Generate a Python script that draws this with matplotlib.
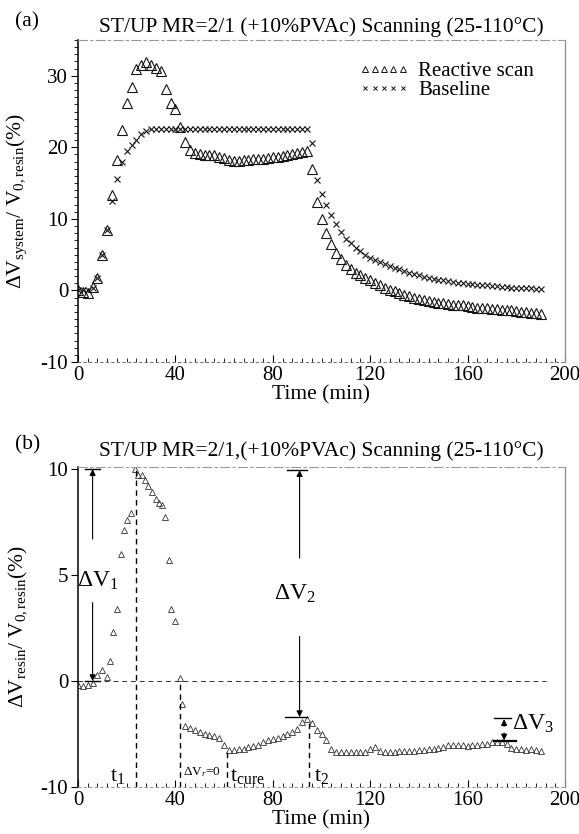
import matplotlib
matplotlib.use("Agg")
import matplotlib.pyplot as plt
from matplotlib.ticker import MultipleLocator, FixedLocator
from matplotlib.lines import Line2D

plt.rcParams["font.family"] = ["Liberation Serif", "DejaVu Serif"]
plt.rcParams["mathtext.fontset"] = "custom"
plt.rcParams["mathtext.rm"] = "Liberation Serif"
plt.rcParams["mathtext.it"] = "Liberation Serif:italic"
plt.rcParams["axes.unicode_minus"] = False

# ---- panel (a): system volume change, reactive scan vs baseline ----
time_a = [0, 2, 4, 6, 8, 10, 12, 14, 16, 18, 20, 22, 24, 26, 28, 30, 32, 34, 36, 38,
          40, 42, 44, 46, 48, 50, 52, 54, 56, 58, 60, 62, 64, 66, 68, 70, 72, 74, 76, 78,
          80, 82, 84, 86, 88, 90, 92, 94, 96, 98, 100, 102, 104, 106, 108, 110, 112, 114,
          116, 118, 120, 122, 124, 126, 128, 130, 132, 134, 136, 138, 140, 142, 144, 146,
          148, 150, 152, 154, 156, 158, 160, 162, 164, 166, 168, 170, 172, 174, 176, 178,
          180, 182, 184, 186, 188, 190]
reactive_a = [0, -0.2, -0.3, 0.5, 1.8, 5.0, 8.4, 13.4, 18.2, 22.4, 26.2, 28.4, 31.0, 31.5,
              31.9, 31.5, 31.1, 30.6, 28.1, 26.2, 25.3, 22.8, 20.8, 19.6, 19.2, 19.0, 18.9,
              18.9, 18.9, 18.7, 18.5, 18.2, 18.1, 18.1, 18.2, 18.2, 18.3, 18.3, 18.4, 18.5,
              18.6, 18.7, 18.8, 18.9, 19.0, 19.2, 19.3, 19.5, 17.0, 12.3, 10.0, 8.0, 6.5,
              5.3, 4.4, 3.6, 3.0, 2.5, 2.1, 1.8, 1.5, 1.1, 0.8, 0.4, 0.1, -0.1, -0.3, -0.6,
              -0.8, -1.0, -1.2, -1.3, -1.5, -1.6, -1.7, -1.8, -1.9, -2.0, -2.0, -2.1, -2.2,
              -2.3, -2.4, -2.4, -2.5, -2.6, -2.6, -2.7, -2.8, -2.8, -2.9, -3.0, -3.0, -3.1,
              -3.2, -3.3]
baseline_a = [0, 0, 0, 0.3, 1.8, 5.0, 8.4, 12.5, 15.6, 17.9, 19.5, 20.3, 21.0, 21.8, 22.3,
              22.5, 22.6, 22.6, 22.6, 22.6, 22.6, 22.6, 22.6, 22.6, 22.6, 22.6, 22.6, 22.6,
              22.6, 22.6, 22.6, 22.6, 22.6, 22.6, 22.6, 22.6, 22.6, 22.6, 22.6, 22.6, 22.6,
              22.6, 22.6, 22.6, 22.6, 22.6, 22.6, 22.6, 20.6, 15.5, 13.5, 12.0, 10.6, 9.3,
              8.2, 7.2, 6.6, 6.0, 5.5, 5.0, 4.6, 4.3, 4.0, 3.7, 3.4, 3.2, 3.0, 2.7, 2.5, 2.3,
              2.1, 1.9, 1.8, 1.6, 1.5, 1.4, 1.3, 1.2, 1.1, 1.0, 0.95, 0.9, 0.8, 0.7, 0.7,
              0.6, 0.6, 0.5, 0.5, 0.4, 0.4, 0.4, 0.3, 0.3, 0.2, 0.2]

# ---- panel (b): resin volume change (axis units as drawn; lowest tick printed as -10) ----
time_b = [0, 2, 4, 6, 8, 10, 12, 13, 14.4, 16, 17.7, 18.9, 20.1, 21.9, 23.5, 24.6, 26.1,
          27.6, 28.8, 30.3, 31.9, 33.4, 34.5, 35.6, 37.2, 38.3, 39.8, 41.7, 42.8,
          44, 46, 48, 50, 52, 54, 56, 58, 60, 62, 64, 66, 68, 70, 72, 74, 76, 78, 80, 82,
          84, 86, 88, 90, 92, 94, 96, 98, 100, 102, 104, 106, 108, 110, 112, 114, 116,
          118, 120, 122, 124, 126, 128, 130, 132, 134, 136, 138, 140, 142, 144, 146, 148,
          150, 152, 154, 156, 158, 160, 162, 164, 166, 168, 170, 172, 174, 176, 178, 180,
          182, 184, 186, 188, 190]
resin_b = [-0.2, -0.25, -0.2, -0.1, 0.3, 0.5, 0.2, 0.95, 2.3, 3.4, 6.0, 7.15, 7.6, 7.95,
           10.0, 9.7, 9.7, 9.5, 9.2, 8.9, 8.6, 8.4, 8.3, 7.75, 5.7, 3.4, 2.85, 0.15, -1.1,
           -2.1, -2.2, -2.3, -2.4, -2.5, -2.55, -2.6, -2.7, -3.0, -3.25, -3.25, -3.2, -3.2,
           -3.1, -3.05, -3.0, -2.9, -2.8, -2.75, -2.7, -2.6, -2.5, -2.4, -2.25, -1.95, -1.8,
           -2.0, -2.3, -2.5, -2.8, -3.2, -3.35, -3.35, -3.35, -3.35, -3.35, -3.35, -3.35,
           -3.2, -3.1, -3.3, -3.35, -3.35, -3.35, -3.3, -3.3, -3.3, -3.3, -3.25, -3.25,
           -3.2, -3.2, -3.15, -3.1, -3.0, -3.0, -3.0, -3.0, -3.05, -3.0, -3.0, -2.95, -2.95,
           -2.9, -2.9, -2.9, -2.95, -3.15, -3.2, -3.2, -3.25, -3.2, -3.25, -3.3]
yticks_b = [-5, 0, 5, 10]
yticklabels_b = ["-10", "0", "5", "10"]

# characteristic times / levels marked in (b)
t_1, t_r0, t_cure, t_2 = 24, 42, 61, 95
dv1_x, dv2_x, dv3_x = 6, 91, 175
dv2_low = -1.7
dv3_top, dv3_bot = -1.75, -2.85

FS = 15.5
TICK_FS = 15
W, H = 579, 834
fig = plt.figure(figsize=(W / 100, H / 100), dpi=100)
ax1 = fig.add_axes([78 / W, 1 - 362 / H, 487 / W, 322 / H])
ax2 = fig.add_axes([78 / W, 1 - 787 / H, 487 / W, 320 / H])

ink = "#151515"


def style_axes(ax):
    ax.set_xlim(0, 200)
    ax.xaxis.set_major_locator(MultipleLocator(40))
    ax.xaxis.set_minor_locator(MultipleLocator(4))
    ax.tick_params(axis="x", which="both", direction="in", top=False, labelsize=TICK_FS, pad=3)
    ax.tick_params(axis="x", which="major", length=5)
    ax.tick_params(axis="x", which="minor", length=3)
    ax.tick_params(axis="y", which="both", direction="out", right=False, labelsize=TICK_FS, pad=2)
    ax.tick_params(axis="y", which="major", length=5)
    ax.tick_params(axis="y", which="minor", length=3)
    ax.spines["left"].set_linewidth(1.1)
    ax.spines["top"].set_color("#9a9a9a")
    ax.spines["top"].set_linestyle((0, (8, 3, 2, 3)))
    ax.spines["top"].set_linewidth(0.8)
    ax.spines["right"].set_color("#8a8a8a")
    ax.spines["right"].set_linewidth(0.9)
    ax.spines["bottom"].set_color("#777777")
    ax.spines["bottom"].set_linestyle((0, (2, 3)))
    ax.spines["bottom"].set_linewidth(0.8)
    ax.set_xlabel("Time (min)", fontsize=FS, labelpad=0)


# ---------- (a) ----------
style_axes(ax1)
ax1.set_ylim(-10, 35)
ax1.yaxis.set_major_locator(MultipleLocator(10))
ax1.yaxis.set_minor_locator(MultipleLocator(1))
ax1.plot(time_a, reactive_a, ls="none", marker="^", ms=6.5, mfc="none", mec=ink, mew=0.8)
ax1.plot(time_a, baseline_a, ls="none", marker="x", ms=4.5, color=ink, mew=0.8)
ax1.set_ylabel(r"$\Delta$V$_{\mathrm{system}}$/ V$_{\mathrm{0,resin}}$(%)", fontsize=FS)
ax1.yaxis.set_label_coords(-0.1, 0.5)
ax1.set_title("ST/UP MR=2/1 (+10%PVAc) Scanning (25-110\u00b0C)", fontsize=FS, pad=6)
fig.text(15 / W, 1 - 22 / H, "(a)", fontsize=FS, va="center")

handles = [
    Line2D([], [], ls="none", marker="^", ms=4.5, mfc="none", mec=ink, mew=0.7),
    Line2D([], [], ls="none", marker="x", ms=3.5, color=ink, mew=0.7),
]
ax1.legend(handles, ["Reactive scan", "Baseline"], numpoints=5, handlelength=2.4,
           handletextpad=0.45, labelspacing=0.0, frameon=False, fontsize=15,
           loc="upper left", bbox_to_anchor=(0.56, 0.96), borderaxespad=0)

# ---------- (b) ----------
style_axes(ax2)
ax2.set_ylim(-5, 10.1)
ax2.yaxis.set_major_locator(FixedLocator(yticks_b))
ax2.set_yticklabels(yticklabels_b)
ax2.spines["bottom"].set_color("#999999")
ax2.plot(time_b, resin_b, ls="none", marker="^", ms=5, mfc="none", mec="#333333", mew=0.6)
ax2.set_ylabel(r"$\Delta$V$_{\mathrm{resin}}$/ V$_{\mathrm{0,resin}}$(%)", fontsize=FS)
ax2.yaxis.set_label_coords(-0.1, 0.5)
ax2.set_title("ST/UP MR=2/1,(+10%PVAc) Scanning (25-110\u00b0C)", fontsize=FS, pad=8)
fig.text(15 / W, 1 - 445 / H, "(b)", fontsize=FS, va="center")

dash = dict(color="k", lw=1.0, ls=(0, (4, 3)))
ax2.plot([0, 192], [0, 0], color="#333333", lw=0.7, ls=(0, (5, 4)))
ax2.plot([t_1, t_1], [-5, 10], **dash)
ax2.plot([t_r0, t_r0], [-5, 0], **dash)
ax2.plot([t_cure, t_cure], [-5, -3.2], **dash)
ax2.plot([t_2, t_2], [-5, -1.9], **dash)

arrow = dict(arrowstyle="-|>", lw=0.8, color="k", mutation_scale=9, shrinkA=0, shrinkB=0)
# delta V1
ax2.plot([dv1_x - 3, dv1_x + 3], [10, 10], color="k", lw=1.0)
ax2.plot([dv1_x - 3, dv1_x + 3], [0, 0], color="k", lw=1.0)
ax2.annotate("", xy=(dv1_x, 10), xytext=(dv1_x, 6.7), arrowprops=arrow)
ax2.annotate("", xy=(dv1_x, 0), xytext=(dv1_x, 3.7), arrowprops=arrow)
ax2.text(8.3, 4.75, r"$\Delta$V$_1$", fontsize=17, ha="center", va="center")
# delta V2
ax2.plot([dv2_x - 5, dv2_x + 3], [9.95, 9.95], color="k", lw=1.0)
ax2.plot([dv2_x - 6, dv2_x + 3], [dv2_low, dv2_low], color="k", lw=1.0)
ax2.annotate("", xy=(dv2_x, 9.95), xytext=(dv2_x, 5.8), arrowprops=arrow)
ax2.annotate("", xy=(dv2_x, dv2_low), xytext=(dv2_x, 2.1), arrowprops=arrow)
ax2.text(89, 4.1, r"$\Delta$V$_2$", fontsize=17, ha="center", va="center")
# delta V3
ax2.plot([dv3_x - 4, dv3_x + 3], [dv3_top, dv3_top], color="k", lw=1.0)
ax2.plot([dv3_x - 4, dv3_x + 5], [dv3_bot, dv3_bot], color="k", lw=1.6)
ax2.annotate("", xy=(dv3_x, dv3_top - 0.05), xytext=(dv3_x, -2.15), arrowprops=arrow)
ax2.annotate("", xy=(dv3_x, dv3_bot + 0.05), xytext=(dv3_x, -2.45), arrowprops=arrow)
ax2.text(187, -2.0, r"$\Delta$V$_3$", fontsize=17, ha="center", va="center")

ax2.text(16.4, -4.5, r"t$_1$", fontsize=16, ha="center", va="center")
ax2.text(51, -4.3, r"$\Delta$V$_r$=0", fontsize=9.5, ha="center", va="center")
ax2.text(69.5, -4.5, r"t$_{\mathrm{cure}}$", fontsize=16, ha="center", va="center")
ax2.text(100, -4.5, r"t$_2$", fontsize=16, ha="center", va="center")

fig.savefig("out.png", dpi=100)
